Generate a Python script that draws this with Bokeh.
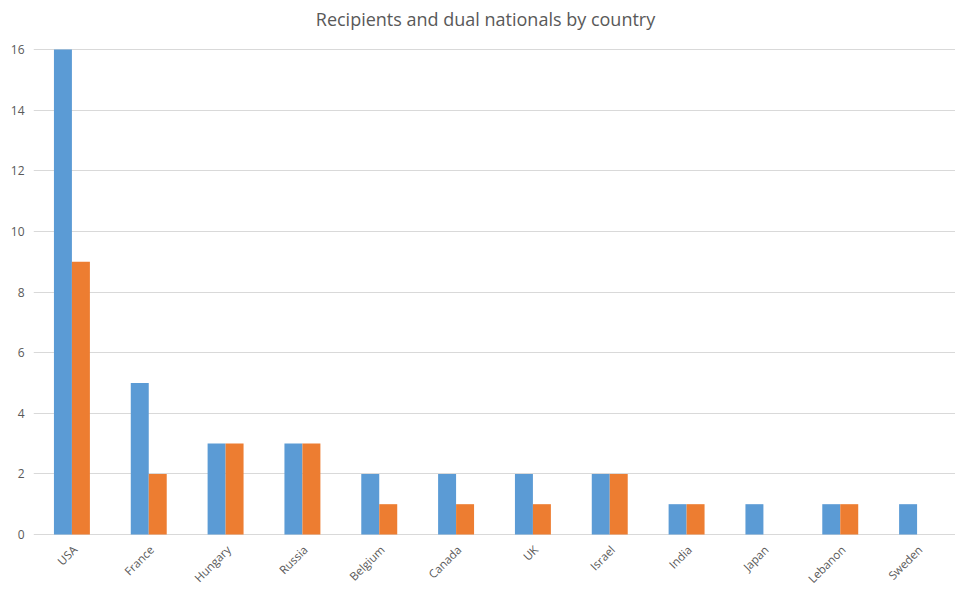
from bokeh.plotting import figure
from bokeh.models import FactorRange, ColumnDataSource, FixedTicker, LabelSet, Label
from bokeh.core.properties import value
from bokeh.transform import dodge
from bokeh.embed import file_html
from bokeh.resources import INLINE
import math

countries = ["USA", "France", "Hungary", "Russia", "Belgium", "Canada", "UK",
             "Israel", "India", "Japan", "Lebanon", "Sweden"]
recipients = [16, 5, 3, 3, 2, 2, 2, 2, 1, 1, 1, 1]
dual_nationals = [9, 2, 3, 3, 1, 1, 1, 2, 1, 0, 1, 0]
y_ticks = [0, 2, 4, 6, 8, 10, 12, 14, 16]
title_text = "Recipients and dual nationals by country"

src = ColumnDataSource(dict(c=countries, r=recipients, d=dual_nationals,
                            base=[0] * len(countries)))

W = 955
H = 590
px_per_unit = (534 - 49) / 16.0
y_top = 16 + 49 / px_per_unit
y_bot = -(H - 534) / px_per_unit

p = figure(width=W, height=H, output_backend="svg", toolbar_location=None,
           x_range=FactorRange(*countries, range_padding=0), y_range=(y_bot, y_top),
           min_border_left=33, min_border_right=0, min_border_top=0, min_border_bottom=0)

FONT = "Open Sans"
GRAY = "#595959"

bw = 0.234
p.vbar(x=dodge("c", -bw / 2, range=p.x_range), top="r", width=bw, source=src,
       fill_color="#5B9BD5", line_color=None)
p.vbar(x=dodge("c", bw / 2, range=p.x_range), top="d", width=bw, source=src,
       fill_color="#ED7D31", line_color=None)

p.outline_line_color = None
p.background_fill_color = "white"

p.yaxis.ticker = FixedTicker(ticks=y_ticks)
p.yaxis.axis_line_color = None
p.yaxis.major_tick_line_color = None
p.yaxis.minor_tick_line_color = None
p.yaxis.major_label_text_font = FONT
p.yaxis.major_label_text_font_size = "12px"
p.yaxis.major_label_text_color = GRAY
p.yaxis.major_label_standoff = 3

p.xaxis.visible = False

labels = LabelSet(x="c", y="base", text="c", source=src, angle=math.pi / 4,
                  x_offset=3, y_offset=-13, text_align="right", text_baseline="middle",
                  text_font=value(FONT), text_font_size=value("11.5px"),
                  text_color=value(GRAY))
p.add_layout(labels)

title = Label(x=len(countries) / 2, y=16, y_offset=31, x_offset=-9, text=title_text,
              text_align="center", text_baseline="middle",
              text_font=FONT, text_font_size="18px", text_color=GRAY)
p.add_layout(title)

p.xgrid.grid_line_color = None
p.ygrid.grid_line_color = "#d9d9d9"
p.ygrid.grid_line_width = 1

open("out.html", "w").write(file_html(p, INLINE))
